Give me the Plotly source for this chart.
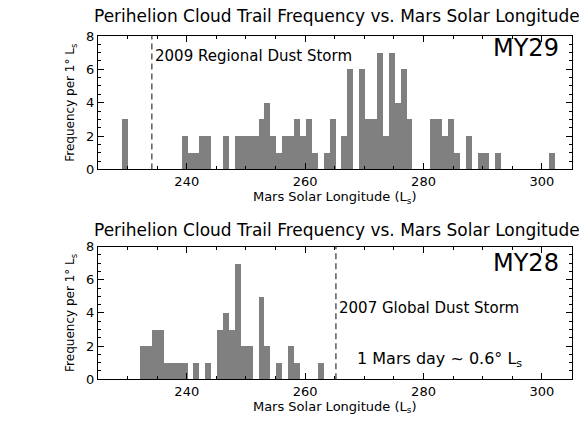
import plotly.graph_objects as go

# ---- data (1 deg Ls bins; value = count of cloud trails in bin starting at Ls) ----
my29_ls = list(range(225, 305))
my29_counts_map = {
    229: 3,
    239: 2, 240: 1, 241: 1, 242: 2, 243: 2, 244: 0, 245: 0, 246: 2, 247: 0,
    248: 2, 249: 2, 250: 2, 251: 2, 252: 3, 253: 4, 254: 2, 255: 1, 256: 2,
    257: 2, 258: 3, 259: 2, 260: 3, 261: 1, 262: 0, 263: 1, 264: 3, 265: 0,
    266: 2, 267: 6, 268: 0, 269: 6, 270: 3, 271: 3, 272: 7, 273: 2, 274: 7,
    275: 4, 276: 6, 277: 3, 281: 3, 282: 3, 283: 2, 284: 3, 285: 1, 287: 2,
    289: 1, 290: 1, 292: 1, 301: 1,
}
my29_counts = [my29_counts_map.get(v, 0) for v in my29_ls]

my28_ls = list(range(225, 305))
my28_counts_map = {
    232: 2, 233: 2, 234: 3, 235: 3, 236: 1, 237: 1, 238: 1, 239: 1, 240: 0,
    241: 1, 242: 0, 243: 1, 244: 0, 245: 3, 246: 4, 247: 3, 248: 7, 249: 2,
    250: 2, 251: 0, 252: 5, 253: 2, 254: 0, 255: 1, 256: 0, 257: 2, 258: 1,
    262: 1,
}
my28_counts = [my28_counts_map.get(v, 0) for v in my28_ls]

storm_2009_ls = 234.1
storm_2007_ls = 265.2
bin_offset = 0.13  # bin left edges sit slightly past the integer
x_ticks = [240, 260, 280, 300]
y_ticks = [0, 2, 4, 6, 8]

title_text = "Perihelion Cloud Trail Frequency vs. Mars Solar Longitude"
ytitle = "Frequency per 1° L<sub>s</sub>"
xtitle = "Mars Solar Longitude (L<sub>s</sub>)"

FONT = "DejaVu Sans"
BAR = "#808080"

W, H = 579, 427
xdom = [98 / W, 571.5 / W]
top_dom = [1 - 168.3 / H, 1 - 30 / H]
bot_dom = [1 - 385.7 / H, 1 - 248.3 / H]

fig = go.Figure()
fig.add_trace(go.Bar(x=[v + bin_offset + 0.5 for v in my29_ls], y=my29_counts, width=1.0,
                     marker=dict(color=BAR, line=dict(width=0)), xaxis="x", yaxis="y",
                     showlegend=False))
fig.add_trace(go.Bar(x=[v + bin_offset + 0.5 for v in my28_ls], y=my28_counts, width=1.0,
                     marker=dict(color=BAR, line=dict(width=0)), xaxis="x2", yaxis="y2",
                     showlegend=False))

xax = dict(range=[225, 305], tickvals=x_ticks, ticks="inside", ticklen=6, tickcolor="black",
           showline=True, linecolor="black", linewidth=1, mirror="ticks", showgrid=False,
           zeroline=False, tickfont=dict(family=FONT, size=13, color="black"),
           minor=dict(dtick=5, tick0=225, ticks="inside", ticklen=3, tickcolor="black", showgrid=False),
           title=dict(text=xtitle, font=dict(family=FONT, size=13, color="black"), standoff=2),
           domain=xdom, fixedrange=True)
yax = dict(range=[0, 8], tickvals=y_ticks, ticks="inside", ticklen=6, tickcolor="black",
           showline=True, linecolor="black", linewidth=1, mirror="ticks", showgrid=False,
           zeroline=False, tickfont=dict(family=FONT, size=13, color="black"),
           minor=dict(dtick=0.5, tick0=0, ticks="inside", ticklen=3, tickcolor="black", showgrid=False),
           title=dict(text=ytitle, font=dict(family=FONT, size=12, color="black"), standoff=8),
           fixedrange=True)

fig.update_layout(
    width=W, height=H, margin=dict(l=0, r=0, t=0, b=0),
    paper_bgcolor="white", plot_bgcolor="white", bargap=0, barmode="overlay",
    xaxis=dict(xax, anchor="y"),
    yaxis=dict(yax, domain=top_dom, anchor="x"),
    xaxis2=dict(xax, anchor="y2"),
    yaxis2=dict(yax, domain=bot_dom, anchor="x2"),
)

# dashed dust storm markers
fig.add_shape(type="line", xref="x", yref="y domain", x0=storm_2009_ls, x1=storm_2009_ls, y0=0, y1=1,
              line=dict(color="#333333", width=1.2, dash="6px,4px"))
fig.add_shape(type="line", xref="x2", yref="y2 domain", x0=storm_2007_ls, x1=storm_2007_ls, y0=0, y1=1,
              line=dict(color="#333333", width=1.2, dash="6px,4px"))

tf = dict(family=FONT, color="black")
ann = [
    dict(text=title_text, xref="paper", yref="paper", x=(xdom[0] + xdom[1]) / 2 + 2 / W, y=1 - 9 / H,
         xanchor="center", yanchor="middle", font=dict(tf, size=17)),
    dict(text=title_text, xref="paper", yref="paper", x=(xdom[0] + xdom[1]) / 2 + 2 / W, y=1 - 231 / H,
         xanchor="center", yanchor="middle", font=dict(tf, size=17)),
    dict(text="2009 Regional Dust Storm", xref="x", yref="y", x=234.3, y=6.8,
         xanchor="left", yanchor="middle", font=dict(tf, size=15)),
    dict(text="MY29", xref="x", yref="y", x=303.3, y=7.3,
         xanchor="right", yanchor="middle", font=dict(tf, size=24)),
    dict(text="MY28", xref="x2", yref="y2", x=303.3, y=7.0,
         xanchor="right", yanchor="middle", font=dict(tf, size=24)),
    dict(text="2007 Global Dust Storm", xref="x2", yref="y2", x=265.4, y=4.3,
         xanchor="left", yanchor="middle", font=dict(tf, size=15)),
    dict(text="1 Mars day ~ 0.6° L<sub>s</sub>", xref="x2", yref="y2", x=268.5, y=1.2,
         xanchor="left", yanchor="middle", font=dict(tf, size=16)),
]
for a in ann:
    a["showarrow"] = False
    fig.add_annotation(**a)

fig.write_html("out.html")
